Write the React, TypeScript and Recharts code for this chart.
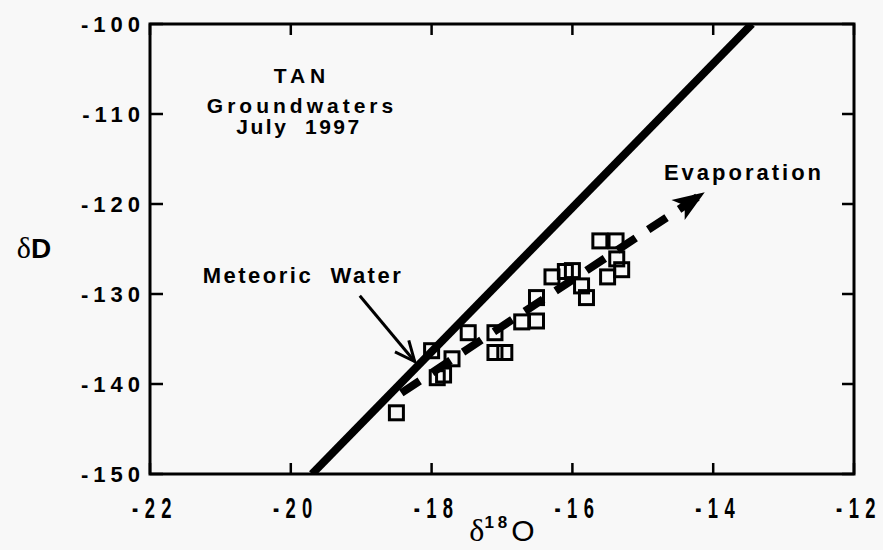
import React from 'react'
import {
   ScatterChart,
   Scatter,
   XAxis,
   YAxis,
   ReferenceArea,
} from 'recharts'

// sample values
const sampleO18 = [
   -18.5, -18.0, -17.92, -17.83, -17.71, -17.48, -17.1, -17.1, -16.96, -16.72,
   -16.51, -16.51, -16.29, -16.1, -16.0, -15.87, -15.8, -15.61, -15.5, -15.38,
   -15.37, -15.3,
]
const sampleDD = [
   -143.2, -136.3, -139.3, -139.0, -137.2, -134.3, -134.3, -136.5, -136.5,
   -133.1, -133.0, -130.4, -128.1, -127.5, -127.4, -129.1, -130.4, -124.1,
   -128.1, -124.1, -126.1, -127.3,
]

// meteoric water line end points
const meteoricO18 = [-19.7, -13.45]
const meteoricDD = [-150, -100]

// evaporation trend arrow
const evapO18 = [-18.43, -14.12]
const evapDD = [-141.0, -118.7]

// pointer from the "Meteoric Water" label
const pointerO18 = [-19.02, -18.24]
const pointerDD = [-130.2, -137.5]

const xTicks = [-22, -20, -18, -16, -14, -12]
const yTicks = [-150, -140, -130, -120, -110, -100]
const xDomain = [-22, -12]
const yDomain = [-150, -100]

const toPoints = (xs: number[], ys: number[]) =>
   xs.map((x, i) => ({ x, y: ys[i] }))

const samples = toPoints(sampleO18, sampleDD)
const meteoric = toPoints(meteoricO18, meteoricDD)
const evap = toPoints(evapO18, evapDD)
const pointer = toPoints(pointerO18, pointerDD)

// layout
const W = 883
const H = 550
const PLOT_LEFT = 150
const PLOT_RIGHT = 854
const PLOT_TOP = 24
const PLOT_BOTTOM = 474
const PX_X = (PLOT_RIGHT - PLOT_LEFT) / (xDomain[1] - xDomain[0])
const PX_Y = (PLOT_BOTTOM - PLOT_TOP) / (yDomain[1] - yDomain[0])

const SANS = "'Liberation Sans', Arial, Helvetica, sans-serif"
const SERIF = "'Liberation Serif', 'DejaVu Serif', serif"

// direction between two data points, in svg degrees (y down)
const screenAngle = (xs: number[], ys: number[]) =>
   Math.atan2(-(ys[1] - ys[0]) * PX_Y, (xs[1] - xs[0]) * PX_X) * 180 / Math.PI

const XTick = (props: any) => {
   const { x, payload } = props
   return (
      <g>
         <line x1={x} x2={x} y1={PLOT_BOTTOM} y2={PLOT_BOTTOM - 11} stroke="#000" strokeWidth={2.5} />
         <line x1={x} x2={x} y1={PLOT_TOP} y2={PLOT_TOP + 11} stroke="#000" strokeWidth={2.5} />
         {/* condensed look of the original digits */}
         <text
            transform={`translate(${x + 5},${PLOT_BOTTOM + 44}) scale(0.8,1.25)`}
            x={0}
            y={0}
            textAnchor="middle"
            fontFamily={SANS}
            fontWeight="bold"
            fontSize={23}
            letterSpacing={8}
            fill="#000"
         >
            {payload.value}
         </text>
      </g>
   )
}

const YTick = (props: any) => {
   const { y, payload } = props
   return (
      <g>
         <line x1={PLOT_LEFT} x2={PLOT_LEFT + 13} y1={y} y2={y} stroke="#000" strokeWidth={2.5} />
         <line x1={PLOT_RIGHT} x2={PLOT_RIGHT - 12} y1={y} y2={y} stroke="#000" strokeWidth={2.5} />
         <text
            x={PLOT_LEFT - 5}
            y={y + 8}
            textAnchor="end"
            fontFamily={SANS}
            fontWeight="bold"
            fontSize={22}
            letterSpacing={5}
            fill="#000"
         >
            {payload.value}
         </text>
      </g>
   )
}

const SquareMark = (props: any) => {
   const { cx, cy } = props
   return <rect x={cx - 7} y={cy - 7} width={14} height={14} fill="none" stroke="#000" strokeWidth={3} />
}

const NoMark = () => <g />

const EvapHead = (props: any) => {
   const { cx, cy, index } = props
   if (index !== evap.length - 1) return <g />
   const a = screenAngle(evapO18, evapDD)
   return (
      <polygon
         points="0,0 -32,-12 -24,0 -32,12"
         transform={`translate(${cx},${cy}) rotate(${a})`}
         fill="#000"
      />
   )
}

const PointerHead = (props: any) => {
   const { cx, cy, index } = props
   if (index !== pointer.length - 1) return <g />
   const a = screenAngle(pointerO18, pointerDD)
   return (
      <polyline
         points="-20,-9 0,0 -20,9"
         transform={`translate(${cx},${cy}) rotate(${a})`}
         fill="none"
         stroke="#000"
         strokeWidth={3}
      />
   )
}

export default function App() {
   return (
      <div style={{ position: 'absolute', left: 0, top: 0, width: W, height: H, background: '#f8f8f8' }}>
         <ScatterChart width={W} height={H} margin={{ top: PLOT_TOP, right: W - PLOT_RIGHT, bottom: 0, left: 0 }}>
            <XAxis
               type="number"
               dataKey="x"
               domain={xDomain}
               ticks={xTicks}
               allowDataOverflow
               axisLine={false}
               tickLine={false}
               tick={<XTick />}
               height={H - PLOT_BOTTOM}
               interval={0}
            />
            <YAxis
               type="number"
               dataKey="y"
               domain={yDomain}
               ticks={yTicks}
               allowDataOverflow
               axisLine={false}
               tickLine={false}
               tick={<YTick />}
               width={PLOT_LEFT}
               interval={0}
            />
            <ReferenceArea
               x1={xDomain[0]}
               x2={xDomain[1]}
               y1={yDomain[0]}
               y2={yDomain[1]}
               fill="none"
               fillOpacity={0}
               stroke="#000"
               strokeWidth={3}
               strokeOpacity={1}
            />
            <Scatter
               data={meteoric}
               line={{ stroke: '#000', strokeWidth: 8 }}
               lineType="joint"
               shape={<NoMark />}
               isAnimationActive={false}
            />
            <Scatter
               data={evap}
               line={{ stroke: '#000', strokeWidth: 8, strokeDasharray: '22 15' }}
               lineType="joint"
               shape={<EvapHead />}
               isAnimationActive={false}
            />
            <Scatter
               data={pointer}
               line={{ stroke: '#000', strokeWidth: 3 }}
               lineType="joint"
               shape={<PointerHead />}
               isAnimationActive={false}
            />
            <Scatter data={samples} shape={<SquareMark />} isAnimationActive={false} />

            <g fontFamily={SANS} fontWeight="bold" fill="#000">
               <text x={302} y={83} textAnchor="middle" fontSize={21} letterSpacing={5}>TAN</text>
               <text x={302} y={113} textAnchor="middle" fontSize={21} letterSpacing={4}>Groundwaters</text>
               <text x={299} y={134} textAnchor="middle" fontSize={21} letterSpacing={2.5} style={{ whiteSpace: 'pre' }}>July  1997</text>
               <text x={303} y={283} textAnchor="middle" fontSize={22} letterSpacing={2.5} style={{ whiteSpace: 'pre' }}>Meteoric  Water</text>
               <text x={744} y={180} textAnchor="middle" fontSize={22} letterSpacing={3}>Evaporation</text>
            </g>
            <text x={34} y={258} textAnchor="middle" fill="#000">
               <tspan fontFamily={SERIF} fontSize={30}>δ</tspan>
               <tspan fontFamily={SANS} fontWeight="bold" fontSize={28}>D</tspan>
            </text>
            <text x={502} y={541} textAnchor="middle" fill="#000">
               <tspan fontFamily={SERIF} fontSize={32}>δ</tspan>
               <tspan fontFamily={SANS} fontWeight="bold" fontSize={17} letterSpacing={4} dy={-13}>18</tspan>
               <tspan fontFamily={SANS} fontSize={30} dy={13}>O</tspan>
            </text>
         </ScatterChart>
      </div>
   )
}
